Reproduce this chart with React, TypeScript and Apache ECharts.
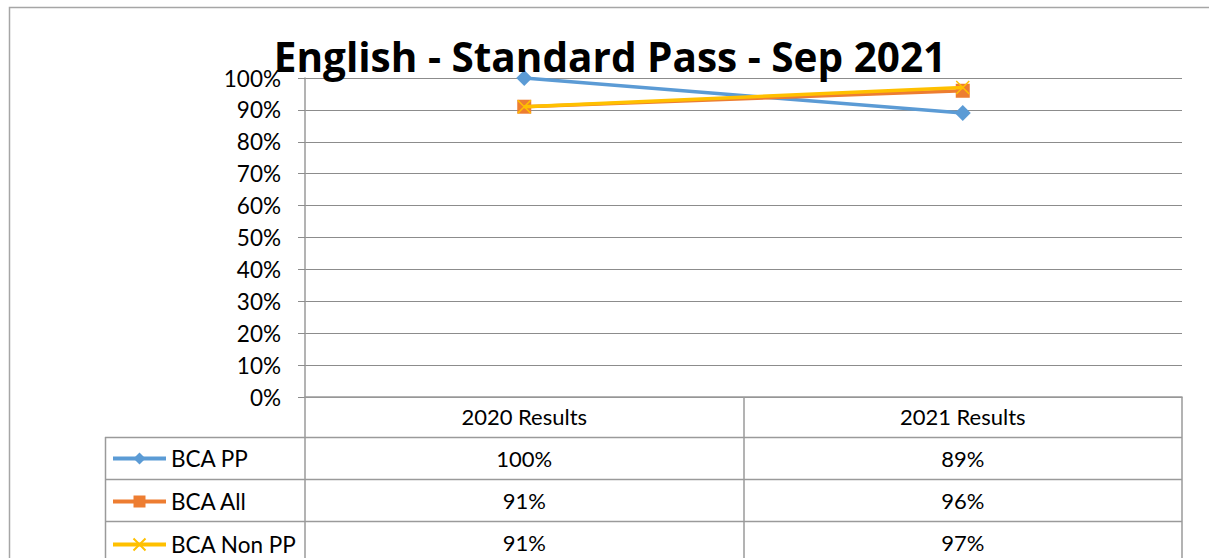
import React, { useEffect, useRef } from 'react';
import * as echarts from 'echarts';

const chartTitle = 'English - Standard Pass - Sep 2021';
const categories = ['2020 Results', '2021 Results'];
const seriesNames = ['BCA PP', 'BCA All', 'BCA Non PP'];
const bcaPP = [100, 89];
const bcaAll = [91, 96];
const bcaNonPP = [91, 97];
const yMin = 0;
const yMax = 100;
const yStep = 10;

const FONT = 'Lato';
const TITLE_FONT = 'Open Sans';
const GRID_LINE = '#8c8c8c';
const TABLE_LINE = '#9a9a9a';
const COLORS = ['#5B9BD5', '#ED7D31', '#FFC000'];
const X_PATH = 'path://M0,0L10,10M10,0L0,10';

export default function App() {
  const ref = useRef<HTMLDivElement>(null);
  useEffect(() => {
    if (!ref.current) return;
    const chart = echarts.init(ref.current, undefined, { renderer: 'svg' });
    const seriesData = [bcaPP, bcaAll, bcaNonPP];
    const symbols = ['diamond', 'rect', X_PATH];
    const symbolSizes = [16, 14, 13];
    const option: any = {
      animation: false,
      backgroundColor: '#ffffff',
      title: {
        text: chartTitle,
        left: 610,
        top: 36,
        textAlign: 'center',
        padding: 0,
        textStyle: { fontFamily: TITLE_FONT, fontSize: 40.5, fontWeight: 'bold', color: '#000' },
      },
      legend: {
        orient: 'vertical',
        left: 111,
        top: 447,
        itemGap: 20,
        itemWidth: 53,
        itemHeight: 15,
        padding: 0,
        data: seriesNames,
        lineStyle: { width: 4 },
        textStyle: { fontFamily: FONT, fontSize: 22.5, color: '#000', lineHeight: 22 },
      },
      grid: { left: 305, right: 27, top: 78, bottom: 161, containLabel: false },
      xAxis: {
        type: 'category',
        data: categories,
        boundaryGap: true,
        axisLine: { show: true, lineStyle: { color: TABLE_LINE, width: 1.5 } },
        axisTick: { show: true, interval: 0, length: 170, lineStyle: { color: TABLE_LINE, width: 1.5 } },
        axisLabel: { margin: 8, fontFamily: FONT, fontSize: 22, color: '#000', interval: 0 },
        splitLine: { show: false },
      },
      yAxis: {
        type: 'value',
        min: yMin,
        max: yMax,
        interval: yStep,
        axisLine: { show: true, lineStyle: { color: TABLE_LINE, width: 1.5 } },
        axisTick: { show: true, length: 7, lineStyle: { color: GRID_LINE } },
        axisLabel: { margin: 24, fontFamily: FONT, fontSize: 22.5, color: '#000', formatter: '{value}%' },
        splitLine: { show: true, lineStyle: { color: GRID_LINE, width: 1.2 } },
      },
      series: seriesNames.map((name, i) => ({
        name,
        type: 'line',
        data: seriesData[i],
        symbol: symbols[i],
        symbolSize: symbolSizes[i],
        showSymbol: true,
        lineStyle: { color: COLORS[i], width: 3.5 },
        itemStyle: i === 2
          ? { color: COLORS[i], borderColor: COLORS[i], borderWidth: 1.5 }
          : { color: COLORS[i], borderColor: COLORS[i], borderWidth: 0 },
        z: 2 + i,
      })),
    };
    chart.setOption(option);

    const xs = categories.map((c) => chart.convertToPixel({ xAxisIndex: 0 }, c) as number);
    const yBottom = chart.convertToPixel({ yAxisIndex: 0 }, yMin) as number;
    const right = 1182;
    const headerH = 40;
    const rowH = 42;
    const legendLeft = 105;
    const graphics: any[] = [];
    graphics.push({
      type: 'rect',
      shape: { x: 9.5, y: 7.5, width: 1400, height: 800 },
      style: { fill: 'none', stroke: '#a6a6a6', lineWidth: 1.5 },
      silent: true,
      z: -10,
    });
    for (let r = 0; r <= seriesNames.length; r++) {
      const y = Math.round(yBottom + headerH + r * rowH) + 0.5;
      graphics.push({
        type: 'line',
        shape: { x1: legendLeft, y1: y, x2: right, y2: y },
        style: { stroke: TABLE_LINE, lineWidth: 1.5 },
        silent: true,
      });
    }
    graphics.push({
      type: 'line',
      shape: { x1: legendLeft + 0.5, y1: yBottom + headerH, x2: legendLeft + 0.5, y2: 600 },
      style: { stroke: TABLE_LINE, lineWidth: 1.5 },
      silent: true,
    });
    seriesData.forEach((vals, r) => {
      vals.forEach((v, c) => {
        graphics.push({
          type: 'text',
          x: xs[c],
          y: yBottom + headerH + r * rowH + rowH / 2,
          style: {
            text: v + '%',
            fontFamily: FONT,
            fontSize: 22,
            fill: '#000',
            align: 'center',
            verticalAlign: 'middle',
          },
          silent: true,
        });
      });
    });
    chart.setOption({ graphic: graphics });
    return () => chart.dispose();
  }, []);
  return (
    <div
      ref={ref}
      style={{ position: 'absolute', left: 0, top: 0, width: 1209, height: 558, background: '#fff' }}
    />
  );
}
